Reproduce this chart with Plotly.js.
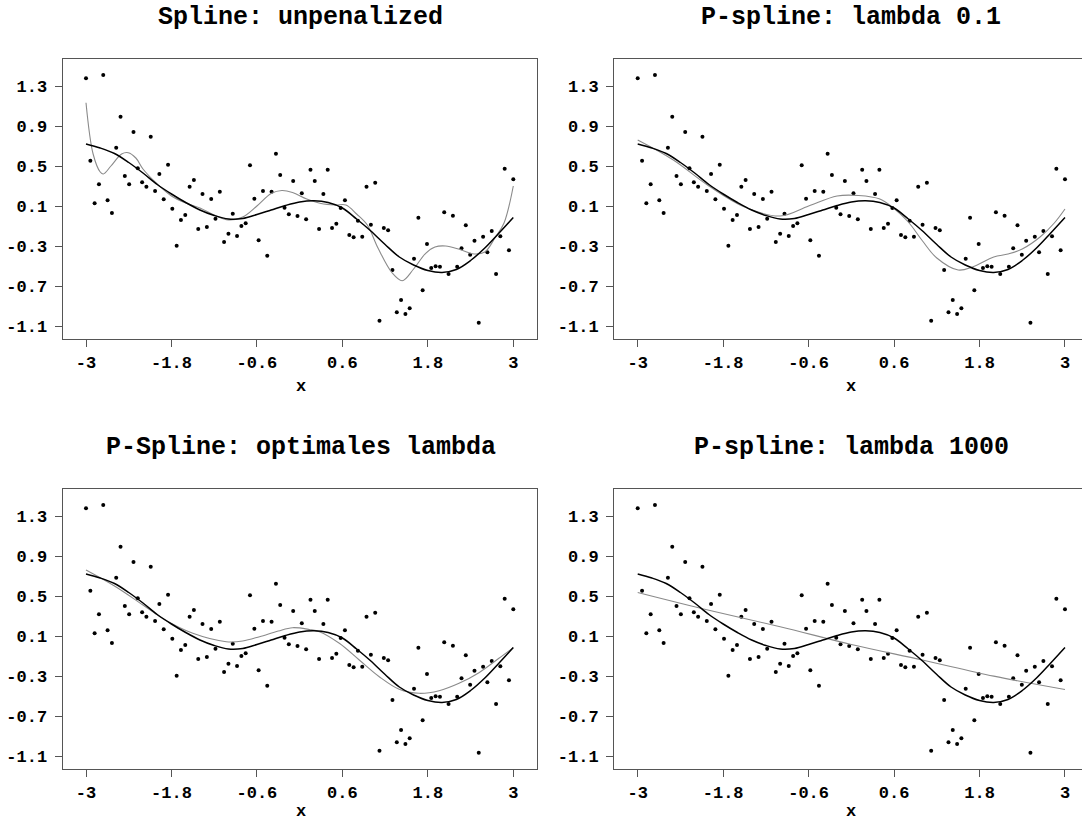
<!DOCTYPE html>
<html>
<head>
<meta charset="utf-8">
<script src="https://cdn.plot.ly/plotly-3.0.1.min.js"></script>
<style>html,body{margin:0;padding:0;background:#fff;overflow:hidden}#chart{width:1082px;height:823px}</style>
</head>
<body>
<div id="chart"></div>
<script>
// ---- data ----
const obsX = [-3.000,-2.939,-2.879,-2.818,-2.758,-2.697,-2.636,-2.576,-2.515,-2.455,
  -2.394,-2.333,-2.273,-2.212,-2.152,-2.091,-2.030,-1.970,-1.909,-1.848,
  -1.788,-1.727,-1.667,-1.606,-1.545,-1.485,-1.424,-1.364,-1.303,-1.242,
  -1.182,-1.121,-1.061,-1.000,-0.939,-0.879,-0.818,-0.758,-0.697,-0.636,
  -0.576,-0.515,-0.455,-0.394,-0.333,-0.273,-0.212,-0.152,-0.091,-0.030,
  0.030,0.091,0.152,0.212,0.273,0.333,0.394,0.455,0.515,0.576,
  0.636,0.697,0.758,0.818,0.879,0.939,1.000,1.061,1.121,1.182,
  1.242,1.303,1.364,1.424,1.485,1.545,1.606,1.667,1.727,1.788,
  1.848,1.909,1.970,2.030,2.091,2.152,2.212,2.273,2.333,2.394,
  2.455,2.515,2.576,2.636,2.697,2.758,2.818,2.879,2.939,3.000];
const obsY = [1.377,0.553,0.127,0.317,1.410,0.157,0.030,0.683,0.993,0.400,
  0.317,0.840,0.477,0.337,0.293,0.793,0.250,0.420,0.167,0.513,
  0.073,-0.297,-0.040,0.010,0.293,0.360,-0.130,0.220,-0.110,0.170,
  -0.027,0.243,-0.260,-0.177,0.023,-0.200,-0.100,-0.073,0.507,0.173,
  -0.243,0.250,-0.397,0.243,0.623,0.410,0.083,0.017,0.350,0.000,
  0.227,-0.033,0.463,0.350,-0.130,0.220,0.463,-0.120,-0.077,0.080,
  0.157,-0.190,-0.213,-0.047,-0.207,0.293,-0.087,0.333,-1.047,-0.120,
  -0.143,-0.540,-0.963,-0.840,-0.980,-0.923,-0.427,-0.017,-0.743,-0.280,
  -0.520,-0.503,-0.507,0.037,-0.580,0.003,-0.507,-0.323,-0.093,-0.387,
  -0.247,-1.067,-0.207,-0.363,-0.150,-0.580,-0.203,0.473,-0.343,0.367];

// true function (black)
const trueX = [-3,-2.8,-2.6,-2.4,-2.2,-2.0,-1.8,-1.6,-1.4,-1.2,-1.0,-0.8,-0.6,-0.4,-0.2,0,
  0.2,0.4,0.6,0.8,1.0,1.2,1.4,1.6,1.8,2.0,2.2,2.4,2.6,2.8,3.0];
const trueY = [0.72,0.68,0.625,0.535,0.43,0.315,0.22,0.135,0.06,0.005,-0.03,-0.025,0.015,0.06,0.105,0.14,
  0.152,0.135,0.08,-0.03,-0.15,-0.285,-0.41,-0.49,-0.545,-0.565,-0.535,-0.445,-0.32,-0.17,-0.015];

// fitted curves (gray)
const fit1X = [-3,-2.9,-2.8,-2.757,-2.65,-2.5,-2.407,-2.3,-2.2,-2.0,-1.8,-1.6,-1.4,-1.2,-1.0,-0.8,-0.6,-0.4,-0.25,-0.1,
  0.1,0.3,0.5,0.65,0.8,0.95,1.1,1.3,1.44,1.6,1.77,1.9,2.05,2.25,2.45,2.6,2.75,2.87,3.0];
const fit1Y = [1.133,0.62,0.44,0.42,0.50,0.62,0.633,0.58,0.47,0.32,0.20,0.13,0.08,0.01,-0.04,-0.01,0.10,0.225,0.255,0.235,
  0.17,0.125,0.11,0.11,0.02,-0.09,-0.32,-0.57,-0.647,-0.53,-0.373,-0.31,-0.30,-0.335,-0.38,-0.36,-0.21,-0.07,0.30];

const fit2X = [-3,-2.5,-2.0,-1.5,-1.0,-0.6,-0.2,0.1,0.4,0.6,0.8,1.0,1.2,1.5,1.7,2.0,2.2,2.4,2.65,2.85,3.0];
const fit2Y = [0.76,0.56,0.30,0.09,0.0,0.10,0.20,0.205,0.17,0.075,-0.06,-0.25,-0.42,-0.54,-0.51,-0.41,-0.38,-0.33,-0.21,-0.07,0.07];

const fit3X = [-3,-2.6,-2.2,-1.9,-1.5,-1.03,-0.8,-0.563,-0.3,-0.1,0.137,0.277,0.557,0.837,1.118,1.398,1.678,1.958,2.238,2.518,2.798,3.0];
const fit3Y = [0.76,0.60,0.41,0.265,0.127,0.043,0.05,0.093,0.15,0.183,0.165,0.143,0.027,-0.14,-0.307,-0.433,-0.473,-0.447,-0.373,-0.267,-0.123,-0.017];

const fit4X = [-3,-2,-1,0,1,2,3];
const fit4Y = [0.535,0.357,0.193,0.015,-0.14,-0.301,-0.435];

const titles = ["Spline: unpenalized","P-spline: lambda 0.1","P-Spline: optimales lambda","P-spline: lambda 1000"];
const xTickVals = [-3,-1.8,-0.6,0.6,1.8,3];
const xTickText = ["-3","-1.8","-0.6","0.6","1.8","3"];
const yTickVals = [1.3,0.9,0.5,0.1,-0.3,-0.7,-1.1];
const yTickText = ["1.3","0.9","0.5","0.1","-0.3","-0.7","-1.1"];
const xLabel = "x";

// ---- layout ----
const W = 1082, H = 823;
const FONT = "Liberation Mono, Courier New, monospace";
const fits = [[fit1X,fit1Y],[fit2X,fit2Y],[fit3X,fit3Y],[fit4X,fit4Y]];
const panels = [
  {l:62.5, r:537.3, t:59.3, b:339.3, xr:[-3.33,3.337], tc:300.8, xl:387},
  {l:614,  r:1082,  t:59.3, b:339.3, xr:[-3.333,3.239], tc:851, xl:387},
  {l:62.5, r:537.3, t:489.3, b:769.3, xr:[-3.33,3.337], tc:300.8, xl:811},
  {l:614,  r:1082,  t:489.3, b:769.3, xr:[-3.333,3.239], tc:851, xl:811}
];
const traces = [];
const layout = {width:W, height:H, margin:{l:0,r:0,t:0,b:0}, showlegend:false,
  paper_bgcolor:'#fff', plot_bgcolor:'#fff', annotations:[]};
panels.forEach((p,i)=>{
  const n = i===0 ? '' : String(i+1);
  const xa = 'x'+n, ya = 'y'+n;
  traces.push({x:obsX, y:obsY, xaxis:xa, yaxis:ya, mode:'markers', type:'scatter',
    marker:{color:'#000', size:4}, hoverinfo:'skip'});
  traces.push({x:fits[i][0], y:fits[i][1], xaxis:xa, yaxis:ya, mode:'lines', type:'scatter',
    line:{color:'#8a8a8a', width:1.1, shape:'spline', smoothing:1}, hoverinfo:'skip'});
  traces.push({x:trueX, y:trueY, xaxis:xa, yaxis:ya, mode:'lines', type:'scatter',
    line:{color:'#000', width:1.5, shape:'spline', smoothing:1}, hoverinfo:'skip'});
  const axCommon = {showline:true, mirror:true, linecolor:'#555', linewidth:1,
    ticks:'outside', ticklen:7, tickcolor:'#555', tickwidth:1, showgrid:false, zeroline:false,
    tickfont:{family:FONT, size:17, color:'#000', weight:'bold'}, fixedrange:true, tickmode:'array'};
  layout['xaxis'+n] = Object.assign({}, axCommon, {
    domain:[p.l/W, Math.min(1,p.r/W)], range:p.xr, anchor:ya,
    tickvals:xTickVals, ticktext:xTickText, ticklabelstandoff:0});
  layout['yaxis'+n] = Object.assign({}, axCommon, {
    domain:[1-p.b/H, 1-p.t/H], range:[-1.233,1.567], anchor:xa,
    tickvals:yTickVals, ticktext:yTickText, ticklabelstandoff:4});
  layout.annotations.push({text:titles[i], xref:'paper', yref:'paper', x:p.tc/W, y:1-(p.t-42)/H,
    xanchor:'center', yanchor:'middle', showarrow:false,
    font:{family:FONT, size:25, color:'#000', weight:'bold'}});
  layout.annotations.push({text:xLabel, xref:'paper', yref:'paper', x:p.tc/W, y:1-p.xl/H,
    xanchor:'center', yanchor:'middle', showarrow:false,
    font:{family:FONT, size:17, color:'#000', weight:'bold'}});
});
Plotly.newPlot('chart', traces, layout, {staticPlot:true, displayModeBar:false});
</script>
</body>
</html>
